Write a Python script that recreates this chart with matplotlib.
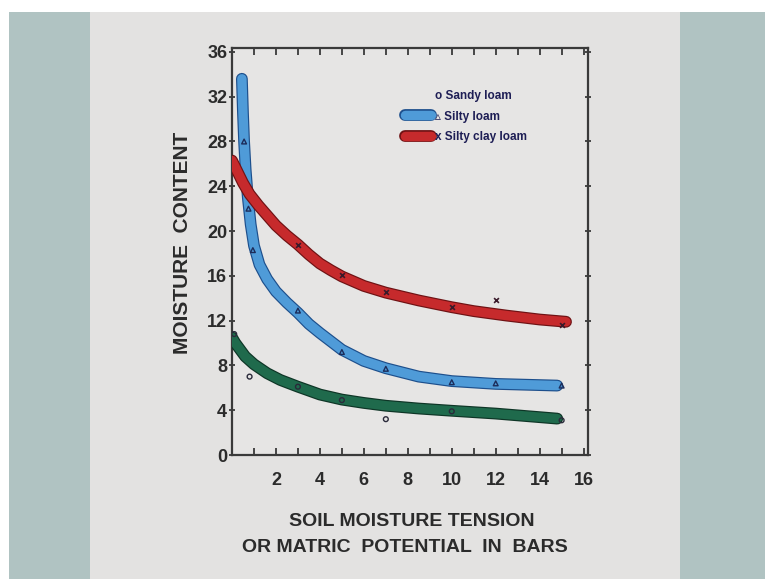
import matplotlib.pyplot as plt
import matplotlib.patheffects as pe
from matplotlib.lines import Line2D
from matplotlib.ticker import MultipleLocator

plt.rcParams['font.family'] = ['Liberation Sans', 'DejaVu Sans']

# curves (x = tension in bars, y = moisture content)
silty_loam_x = [0.45, 0.5, 0.55, 0.62, 0.72, 0.85, 1.0, 1.25, 1.6, 2.0, 2.5, 3.0, 3.5, 4.0, 5.0, 6.0, 7.0, 8.5, 10.0, 12.0, 14.8]
silty_loam_y = [33.6, 30.5, 28.0, 25.5, 23.0, 20.6, 18.7, 17.0, 15.7, 14.6, 13.6, 12.7, 11.7, 10.9, 9.4, 8.4, 7.75, 7.0, 6.6, 6.35, 6.2]

clay_loam_x = [0.0, 0.2, 0.5, 0.8, 1.2, 1.6, 2.0, 2.5, 3.0, 3.5, 4.0, 4.5, 5.0, 6.0, 7.0, 8.5, 10.0, 11.0, 12.5, 14.0, 15.2]
clay_loam_y = [26.3, 25.5, 24.3, 23.3, 22.3, 21.4, 20.5, 19.6, 18.8, 17.9, 17.1, 16.5, 15.95, 15.1, 14.5, 13.8, 13.2, 12.85, 12.45, 12.1, 11.9]

sandy_loam_x = [0.0, 0.15, 0.3, 0.6, 1.0, 1.6, 2.2, 3.0, 3.5, 4.0, 5.0, 6.0, 7.0, 8.5, 10.0, 12.0, 14.8]
sandy_loam_y = [10.5, 10.0, 9.6, 8.8, 8.1, 7.3, 6.7, 6.1, 5.75, 5.4, 4.95, 4.65, 4.4, 4.15, 3.95, 3.7, 3.25]

# measured points marked on the curves
silty_pts_x = [0.55, 0.75, 0.95, 3.0, 5.0, 7.0, 10.0, 12.0, 15.0]
silty_pts_y = [28.0, 22.0, 18.3, 12.9, 9.2, 7.7, 6.5, 6.4, 6.2]
clay_pts_x = [3.0, 5.0, 7.0, 10.0, 12.0, 15.0]
clay_pts_y = [18.8, 16.1, 14.6, 13.2, 13.8, 11.6]
sandy_pts_x = [0.1, 0.8, 3.0, 5.0, 7.0, 10.0, 15.0]
sandy_pts_y = [10.8, 7.0, 6.1, 4.9, 3.2, 3.9, 3.1]

legend_labels = ['o Sandy loam', '\u25b5 Silty loam', 'x Silty clay loam']

fig = plt.figure(figsize=(7.65, 5.79), dpi=100)
fig.patch.set_facecolor('white')

# photo background: blue-gray sides and the grey paper of the slide
fig.add_artist(plt.Rectangle((9 / 765, 0), 1 - 9 / 765, 1 - 12 / 579, transform=fig.transFigure,
                             facecolor='#b0c3c2', edgecolor='none', zorder=-3))
fig.add_artist(plt.Rectangle((90 / 765, 0), 590 / 765, 1 - 12 / 579, transform=fig.transFigure,
                             facecolor='#e3e2e1', edgecolor='none', zorder=-2))

ax = fig.add_axes([232 / 765, 1 - 455 / 579, 356 / 765, 407 / 579])
ax.set_facecolor('#e6e5e4')
ax.set_xlim(0, 16.2)
ax.set_ylim(0, 36.35)

def thick(x, y, face, edge):
    ax.plot(x, y, color=face, lw=6.8, solid_capstyle='round', solid_joinstyle='round', zorder=3,
            path_effects=[pe.Stroke(linewidth=8.5, foreground=edge), pe.Normal()])

thick(sandy_loam_x, sandy_loam_y, '#1f6a4c', '#0e3526')
thick(silty_loam_x, silty_loam_y, '#4f9bd8', '#1d4f8c')
thick(clay_loam_x, clay_loam_y, '#c62a2c', '#6e1214')

ax.scatter(sandy_pts_x, sandy_pts_y, marker='o', s=12, facecolor='none', edgecolor='#2a2a3a', lw=1, zorder=4)
ax.scatter(silty_pts_x, silty_pts_y, marker='^', s=12, facecolor='none', edgecolor='#1c2c5a', lw=1, zorder=4)
ax.scatter(clay_pts_x, clay_pts_y, marker='x', s=12, color='#3a1a2a', lw=1.2, zorder=4)

ax.xaxis.set_major_locator(MultipleLocator(2))
ax.xaxis.set_minor_locator(MultipleLocator(1))
ax.yaxis.set_major_locator(MultipleLocator(4))
ax.tick_params(axis='x', which='both', direction='in', top=True, length=5, width=1.3, color='#3a3a3a')
ax.tick_params(axis='x', which='major', labelsize=13, pad=12)
ax.tick_params(axis='y', which='both', direction='inout', right=True, length=5, width=1.3,
               color='#3a3a3a', labelsize=13, pad=1)
ax.set_xticks(range(2, 17, 2))
ax.set_xticklabels([str(v) for v in range(2, 17, 2)], fontweight='bold', color='#2b2b2b')
ax.set_yticks(range(0, 37, 4))
ax.set_yticklabels([str(v) for v in range(0, 37, 4)], fontweight='bold', color='#2b2b2b')
for s in ax.spines.values():
    s.set_color('#3a3a3a')
    s.set_linewidth(1.6)

handles = [Line2D([], [], color='none'),
           Line2D([], [], color='#4f9bd8', lw=6.8, solid_capstyle='round',
                  path_effects=[pe.Stroke(linewidth=8.5, foreground='#1d4f8c'), pe.Normal()]),
           Line2D([], [], color='#c62a2c', lw=6.8, solid_capstyle='round',
                  path_effects=[pe.Stroke(linewidth=8.5, foreground='#6e1214'), pe.Normal()])]
leg = ax.legend(handles, legend_labels, loc='upper left', bbox_to_anchor=(0.47, 0.912), frameon=False,
                handlelength=2.2, handletextpad=0.35, labelspacing=0.75, borderpad=0,
                prop={'size': 8.5, 'weight': 'bold'})
for t in leg.get_texts():
    t.set_color('#1e1e55')

fig.text(183 / 765, 1 - 243 / 579, 'MOISTURE  CONTENT', rotation=90, ha='center', va='center',
         fontsize=15, fontweight='bold', color='#2b2b2b')
fig.text(412 / 765, 1 - 522 / 579, 'SOIL MOISTURE TENSION', ha='center', va='center',
         fontsize=14, fontweight='bold', color='#2b2b2b')
fig.text(405 / 765, 1 - 548 / 579, 'OR MATRIC  POTENTIAL  IN  BARS', ha='center', va='center',
         fontsize=14, fontweight='bold', color='#2b2b2b')

plt.savefig('out.png', dpi=100)
